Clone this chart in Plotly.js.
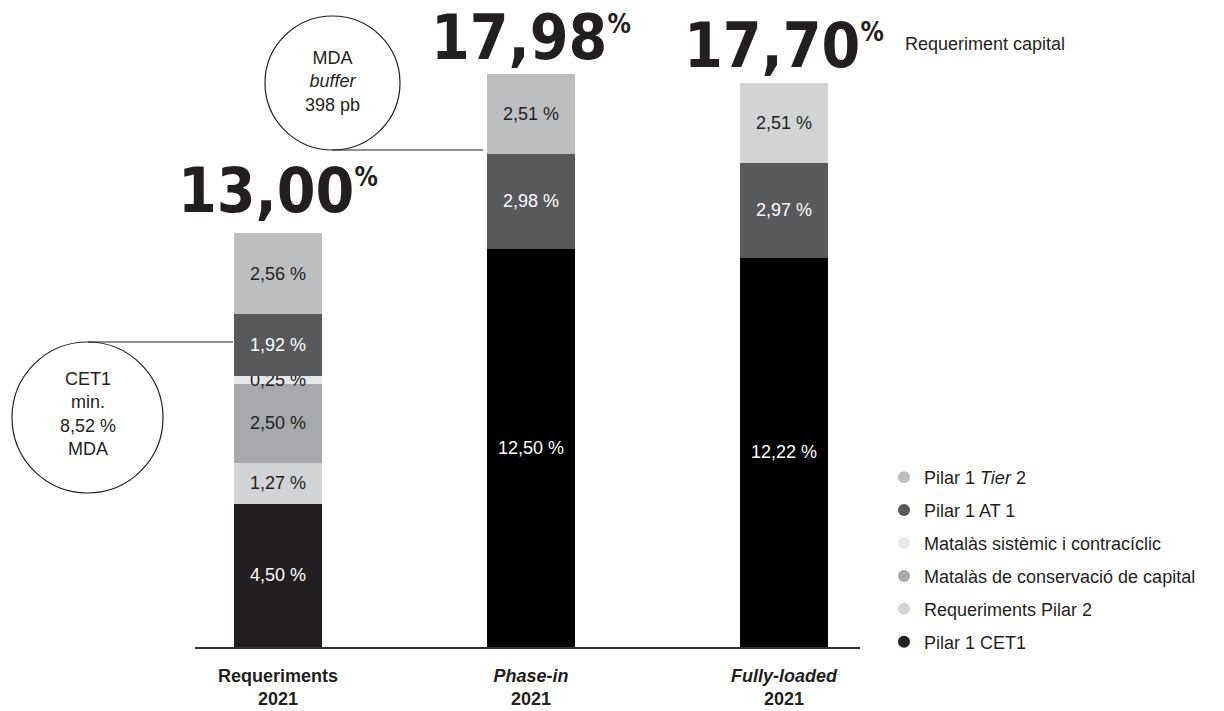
<!DOCTYPE html>
<html>
<head>
<meta charset="utf-8">
<script src="https://cdn.plot.ly/plotly-3.0.1.min.js"></script>
<style>html,body{margin:0;padding:0;background:#fff;}#chart{width:1224px;height:711px;}</style>
</head>
<body>
<div id="chart"></div>
<script>
// ---- data ----
const categories = ['Requeriments<br>2021', '<i>Phase-in</i><br>2021', '<i>Fully-loaded</i><br>2021'];
const pilar1CET1 = [4.50, 12.50, 12.22];
const reqPilar2 = [1.27, null, null];
const matalasConservacio = [2.50, null, null];
const matalasSistemic = [0.25, null, null];
const pilar1AT1 = [1.92, 2.98, 2.97];
const pilar1Tier2 = [2.56, 2.51, 2.51];
const totals = [13.00, 17.98, 17.70];
const legendNames = ['Pilar 1 <i>Tier</i> 2', 'Pilar 1 AT 1', 'Matalàs sistèmic i contracíclic',
  'Matalàs de conservació de capital', 'Requeriments Pilar 2', 'Pilar 1 CET1'];
const totalLabel = 'Requeriment capital';
const mdaBufferText = 'MDA<br><i>buffer</i><br>398 pb';
const cet1MinText = 'CET1<br>min.<br>8,52 %<br>MDA';

// ---- styling ----
const FONT = 'Liberation Sans, Arial, sans-serif';
const DARK = '#231f20';
const C = {
  tier2: '#bcbec0', at1: '#58595b', sist: '#e6e7e8', cons: '#a7a9ac', p2: '#d1d3d4', cet1: '#231f20'
};
const fmt = v => v.toFixed(2).replace('.', ',');

const BW = 0.348;
function barTrace(name, vals, colors, textColors) {
  // keep only categories where this component exists
  const idx = vals.map((v, i) => v == null ? -1 : i).filter(i => i >= 0);
  return {
    type: 'bar', name: name,
    x: idx.map(i => categories[i]), y: idx.map(i => vals[i]), width: BW,
    marker: {color: idx.map(i => colors[i]), line: {width: 0}},
    text: idx.map(i => fmt(vals[i]) + ' %'),
    textposition: 'inside', insidetextanchor: 'middle', textangle: 0,
    constraintext: 'none', cliponaxis: false,
    insidetextfont: {family: FONT, size: 18, color: idx.map(i => textColors[i])},
    showlegend: false, hoverinfo: 'skip'
  };
}

const traces = [
  barTrace('Pilar 1 CET1', pilar1CET1, [C.cet1, '#000000', '#000000'], ['#fff', '#fff', '#fff']),
  barTrace('Requeriments Pilar 2', reqPilar2, [C.p2, C.p2, C.p2], [DARK, DARK, DARK]),
  barTrace('Matalàs de conservació de capital', matalasConservacio, [C.cons, C.cons, C.cons], [DARK, DARK, DARK]),
  barTrace('Matalàs sistèmic i contracíclic', matalasSistemic, [C.sist, C.sist, C.sist], [DARK, DARK, DARK]),
  barTrace('Pilar 1 AT 1', pilar1AT1, [C.at1, C.at1, C.at1], ['#fff', '#fff', '#fff']),
  barTrace('Pilar 1 Tier 2', pilar1Tier2, [C.tier2, C.tier2, C.p2], [DARK, DARK, DARK])
];

// legend entries (circle markers)
const legendColors = [C.tier2, C.at1, C.sist, C.cons, C.p2, C.cet1];
legendNames.forEach((n, i) => {
  traces.push({
    type: 'scatter', mode: 'markers', x: [null], y: [null], name: n,
    legendgroup: 'g' + i, showlegend: true,
    marker: {color: legendColors[i], size: 12, symbol: 'circle'}, hoverinfo: 'skip'
  });
});

// pixel -> paper helpers for decorations
const L = 195, R = 860, T = 10, B = 647;
const px = x => (x - L) / (R - L);
const py = y => (B - y) / (B - T);

const totalShift = [4, -2, -1];
const annotations = totals.map((t, i) => ({
  x: categories[i], y: t, xref: 'x', yref: 'y', yanchor: 'bottom', xanchor: 'center',
  showarrow: false, yshift: totalShift[i],
  text: fmt(t) + '<sup><span style="font-size:26px">%</span></sup>',
  font: {family: 'DejaVu Sans Condensed, DejaVu Sans, sans-serif', size: 62, color: DARK, weight: 'bold'}
}));
annotations.push({
  xref: 'paper', yref: 'paper', x: px(903), y: py(44), xanchor: 'left', yanchor: 'middle',
  showarrow: false, text: totalLabel, font: {family: FONT, size: 18, color: DARK}
});
annotations.push({
  xref: 'paper', yref: 'paper', x: px(332), y: py(82), xanchor: 'center', yanchor: 'middle',
  showarrow: false, text: mdaBufferText, align: 'center', font: {family: FONT, size: 18, color: DARK}
});
annotations.push({
  xref: 'paper', yref: 'paper', x: px(88), y: py(414), xanchor: 'center', yanchor: 'middle',
  showarrow: false, text: cet1MinText, align: 'center', font: {family: FONT, size: 18, color: DARK}
});

const shapes = [
  {type: 'circle', xref: 'paper', yref: 'paper', x0: px(265), x1: px(400), y0: py(150), y1: py(16),
   line: {color: DARK, width: 1.2}, fillcolor: 'rgba(0,0,0,0)'},
  {type: 'line', xref: 'paper', yref: 'paper', x0: px(332), x1: px(483), y0: py(150), y1: py(150),
   line: {color: DARK, width: 1.2}},
  {type: 'circle', xref: 'paper', yref: 'paper', x0: px(12), x1: px(163), y0: py(493), y1: py(342),
   line: {color: DARK, width: 1.2}, fillcolor: 'rgba(0,0,0,0)'},
  {type: 'line', xref: 'paper', yref: 'paper', x0: px(88), x1: px(233), y0: py(342), y1: py(342),
   line: {color: DARK, width: 1.2}}
];

const layout = {
  width: 1224, height: 711,
  margin: {l: L, r: 1224 - R, t: T, b: 711 - B, pad: 0},
  paper_bgcolor: '#fff', plot_bgcolor: '#fff',
  barmode: 'stack', bargap: 0,
  font: {family: FONT, color: DARK},
  xaxis: {
    type: 'category', categoryorder: 'array', categoryarray: categories,
    range: [-0.328, 2.300], showline: true, linecolor: '#333', linewidth: 2,
    ticks: '', showgrid: false, zeroline: false, fixedrange: true, ticklabelstandoff: 11,
    tickfont: {family: FONT, size: 18, color: DARK, weight: 'bold'}
  },
  yaxis: {range: [0, 20], visible: false, fixedrange: true},
  showlegend: true,
  legend: {
    x: px(884), xanchor: 'left', y: py(459), yanchor: 'top', traceorder: 'grouped', tracegroupgap: 6.5,
    font: {family: FONT, size: 18, color: DARK}, bgcolor: 'rgba(0,0,0,0)', itemclick: false
  },
  annotations: annotations, shapes: shapes
};

Plotly.newPlot('chart', traces, layout, {displayModeBar: false, staticPlot: true});
</script>
</body>
</html>
